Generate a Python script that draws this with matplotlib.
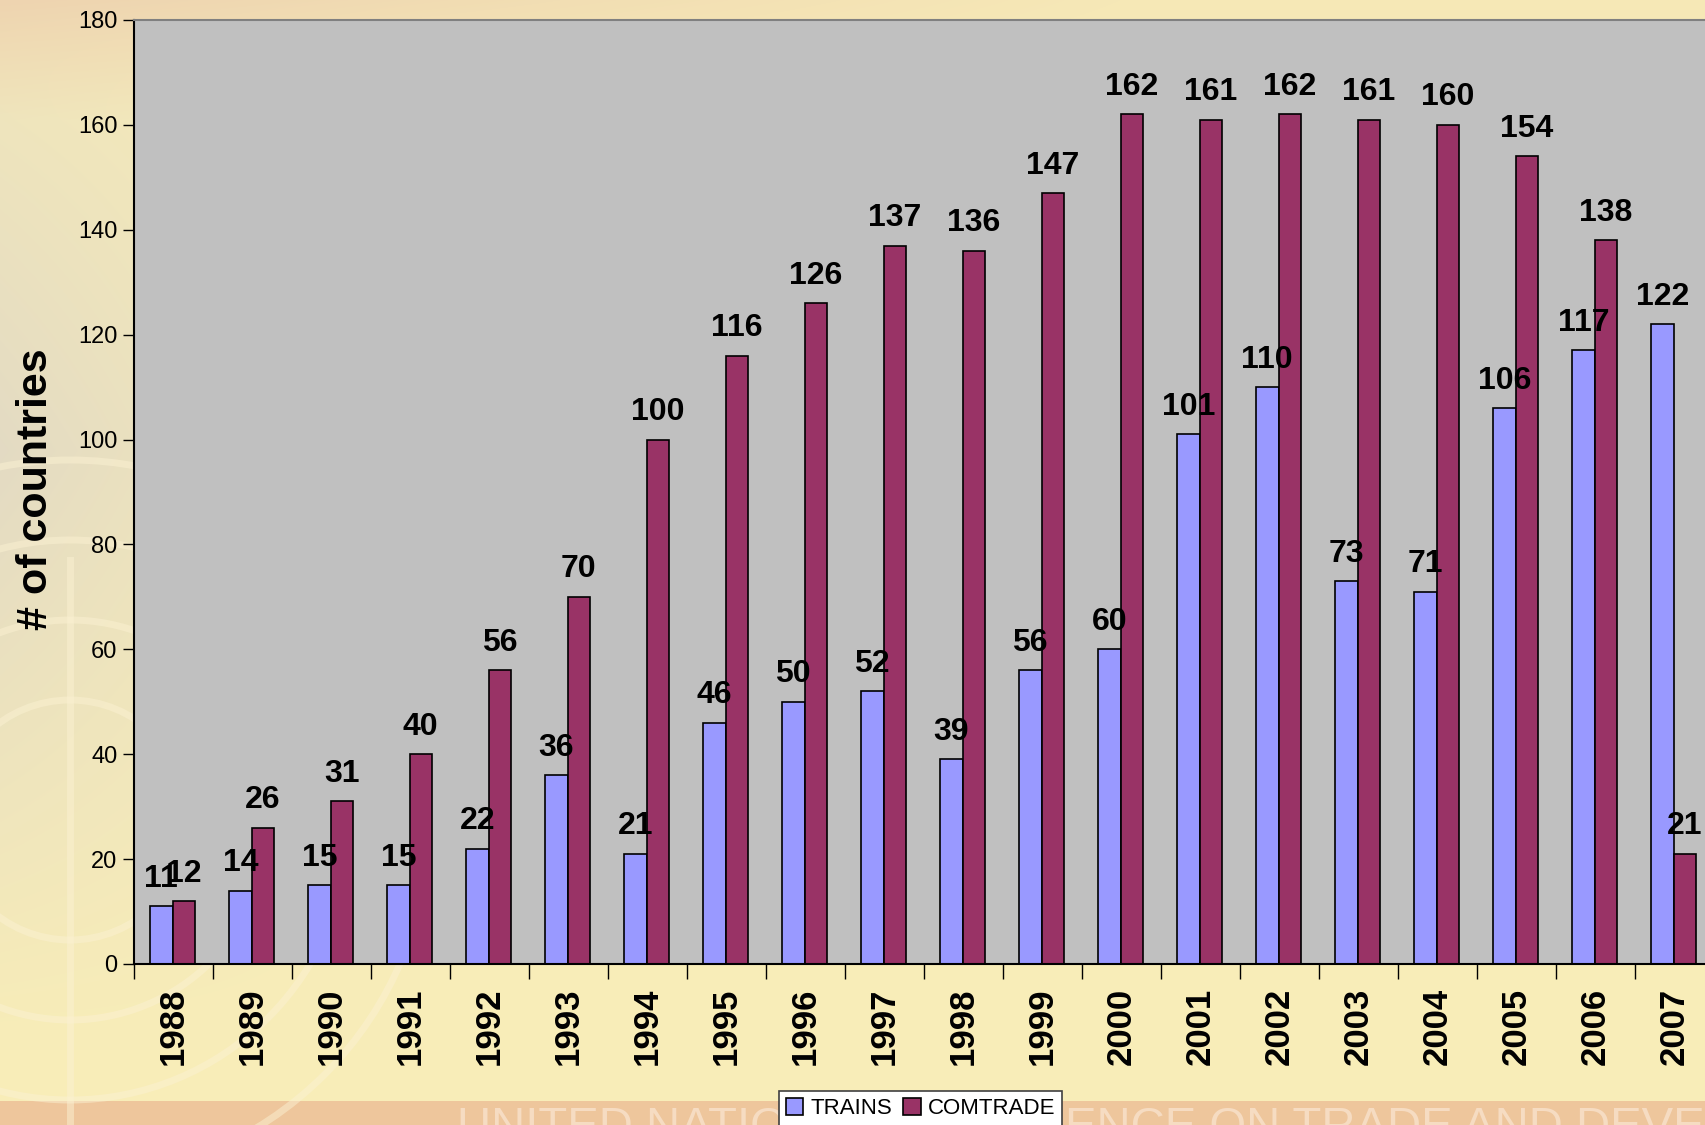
import numpy as np
import matplotlib

matplotlib.use("Agg")
import matplotlib.pyplot as plt
from matplotlib.patches import Circle

plt.rcParams["font.family"] = ["Liberation Sans", "DejaVu Sans"]

years = [str(y) for y in range(1988, 2008)]
trains = [11, 14, 15, 15, 22, 36, 21, 46, 50, 52, 39, 56, 60, 101, 110, 73, 71, 106, 117, 122]
comtrade = [12, 26, 31, 40, 56, 70, 100, 116, 126, 137, 136, 147, 162, 161, 162, 161, 160, 154, 138, 21]

W, H = 1706, 1125
fig = plt.figure(figsize=(W / 100, H / 100), dpi=100)

# slide background: pale yellow with peach top, greyish left, orange footer
bg = fig.add_axes([0, 0, 1, 1], zorder=-10)
yy, xx = np.mgrid[0:H, 0:W]
base = np.array([248, 237, 184], float)
peach = np.array([238, 212, 176], float)
grey = np.array([222, 214, 198], float)
orange = np.array([238, 198, 156], float)
img = np.broadcast_to(base, (H, W, 3)).copy()
wl = np.clip(1 - xx / 420, 0, 1)[..., None] * np.clip(1 - np.abs(yy - 450) / 600, 0, 1)[..., None]
img = img * (1 - 0.8 * wl) + grey * 0.8 * wl
wt = np.clip(1 - yy / 120, 0, 1)[..., None] * np.clip(1 - xx / 1400, 0.2, 1)[..., None]
img = img * (1 - wt) + peach * wt
wb = ((yy > 1100).astype(float))[..., None]
img = img * (1 - wb) + orange * wb
bg.imshow(img.astype(np.uint8), extent=[0, W, H, 0], aspect="auto")
for r in (120, 200, 280, 360):
    bg.add_patch(Circle((70, 820), r, fill=False, ec="#FBF1D2", lw=5, alpha=0.5))
bg.plot([70, 70], [560, 1125], color="#FBF1D2", lw=5, alpha=0.5)
bg.text(457, 1140, "UNITED NATIONS CONFERENCE ON TRADE AND DEVELOPMENT",
        fontsize=34, color="#F6DCC2", va="baseline", ha="left")
bg.set_xlim(0, W)
bg.set_ylim(H, 0)
bg.axis("off")

ax = fig.add_axes([134 / W, 161 / H, 1580 / W, 944 / H])
ax.set_facecolor("#C0C0C0")
x = np.arange(len(years))
w = 0.285
b1 = ax.bar(x - 0.155, trains, w, color="#9999FF", edgecolor="black", lw=1.2, label="TRAINS")
b2 = ax.bar(x + 0.13, comtrade, w, color="#993366", edgecolor="black", lw=1.2, label="COMTRADE")
for bars, vals in ((b1, trains), (b2, comtrade)):
    for b, v in zip(bars, vals):
        ax.annotate(str(v), (b.get_x() + b.get_width() / 2, v), xytext=(0, 9),
                    textcoords="offset points", ha="center", va="bottom",
                    fontsize=23, fontweight="bold")

ax.set_xlim(-0.5, len(years) - 0.5)
ax.set_ylim(0, 180)
ax.set_yticks(range(0, 181, 20))
ax.tick_params(axis="y", length=8, width=1, labelsize=17, pad=4)
ax.set_xticks(np.arange(-0.5, len(years), 1))
ax.set_xticklabels([])
ax.tick_params(axis="x", which="major", length=11, width=1)
ax.set_xticks(x, minor=True)
ax.set_xticklabels(years, minor=True, rotation=90, fontsize=25, fontweight="bold")
ax.tick_params(axis="x", which="minor", length=0, pad=17)
ax.spines["top"].set_color("#808080")
ax.spines["right"].set_visible(False)
for s in ("left", "bottom", "top"):
    ax.spines[s].set_linewidth(1.5)
ax.set_ylabel("# of countries", fontsize=31, fontweight="bold", va="center")
ax.yaxis.set_label_coords(-0.062, 0.503)

leg = fig.legend(handles=[b1, b2], loc="upper left", bbox_to_anchor=(779 / W, 1 - 1091 / H),
                 ncol=2, fontsize=16, frameon=True, fancybox=False, framealpha=1,
                 edgecolor="#404040", handlelength=0.8, handleheight=0.8,
                 handletextpad=0.3, columnspacing=0.5, borderpad=0.3, borderaxespad=0)
leg.get_frame().set_linewidth(1.2)

fig.savefig("out.png", dpi=100)
